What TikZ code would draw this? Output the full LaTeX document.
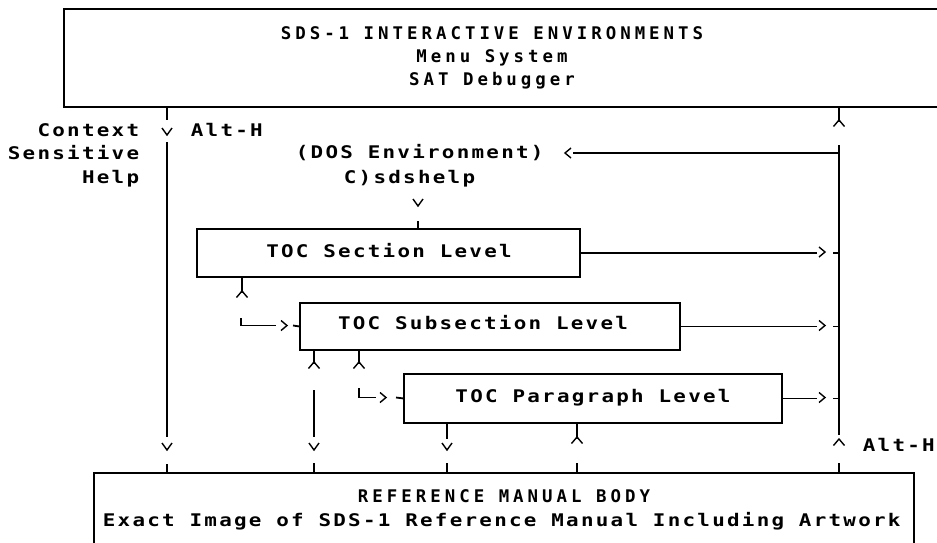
\documentclass[tikz,border=0pt]{standalone}
\usepackage{fontspec}
\newfontfamily\plotfont[FakeStretch=1.2,LetterSpace=13,BoldFont={DejaVu Sans Mono Bold}]{DejaVu Sans Mono}
\newfontfamily\headfont[LetterSpace=23,BoldFont={DejaVu Sans Mono Bold}]{DejaVu Sans Mono}
\newcommand\capdown[2]{\draw[line width=1.4pt] (#1-5,#2-7) -- (#1,#2) -- (#1+5,#2-7);}
\newcommand\capup[2]{\draw[line width=1.4pt] (#1-5.5,#2+6.5) -- (#1,#2) -- (#1+5.5,#2+6.5);}
\newcommand\chevright[2]{\draw[line width=1.4pt] (#1-6,#2-5) -- (#1,#2) -- (#1-6,#2+5);}
\newcommand\chevleft[2]{\draw[line width=1.4pt] (#1+6,#2-5) -- (#1,#2) -- (#1+6,#2+5);}
\begin{document}
\begin{tikzpicture}[x=1pt,y=-1pt,line width=1.8pt,
  box/.style={draw,line width=1.8pt,inner sep=0pt,anchor=north west},
  txt/.style={inner sep=0pt,font=\plotfont\bfseries\fontsize{17.4}{20}\selectfont},
  head/.style={inner sep=0pt,font=\headfont\bfseries\fontsize{17.4}{20}\selectfont}]
\useasboundingbox[fill=white] (0,0) rectangle (937,542);

% boxes
\node[box,minimum width=900pt,minimum height=98pt] (top) at (63,8) {};
\node[box,minimum width=820pt,minimum height=100pt] (body) at (93,472) {};
\node[box,minimum width=383pt,minimum height=48pt] (sec) at (196,228) {};
\node[box,minimum width=380pt,minimum height=47pt] (sub) at (299,302) {};
\node[box,minimum width=378pt,minimum height=49pt] (par) at (403,373) {};

% box texts
\node[head,anchor=base] (t1) at (492,39) {SDS-1 INTERACTIVE ENVIRONMENTS};
\node[head,anchor=base] (t2) at (492,62) {Menu System};
\node[head,anchor=base] (t3) at (492,85) {SAT Debugger};
\node[txt,anchor=base] (secT) at (389,257) {TOC Section Level};
\node[txt,anchor=base] (subT) at (483,329) {TOC Subsection Level};
\node[txt,anchor=base] (parT) at (593,402) {TOC Paragraph Level};
\node[head,anchor=base] (b1) at (504,502) {REFERENCE MANUAL BODY};
\node[txt,anchor=base west] (b2) at (102,526) {Exact Image of SDS-1 Reference Manual Including Artwork};

% side texts
\node[txt,anchor=base east] (ctx) at (140,136) {Context};
\node[txt,anchor=base east] (sens) at (140,159) {Sensitive};
\node[txt,anchor=base east] (help) at (140,183) {Help};
\node[txt,anchor=base west] (alt1) at (190,136) {Alt-H};
\node[txt,anchor=base west] (dos) at (295,158) {(DOS Environment)};
\node[txt,anchor=base west] (cmd) at (343,183) {C)sdshelp};
\node[txt,anchor=base west] (alt2) at (862,451) {Alt-H};

% named coordinates
\coordinate (lx) at (167,0);
\coordinate (rx) at (839,0);
\coordinate (sx) at (314,0);
\coordinate (px) at (447,0);
\coordinate (qx) at (577,0);
\coordinate (ax) at (817,0);
\coordinate (tx) at (833,0);

% left column (context help)
\draw (top.south -| lx) -- ++(0,12);
\capdown{167}{135}
\draw (167,142) coordinate (lstart) -- (167,437) coordinate (lend);
\capdown{167}{450}
\draw (body.north -| lx) -- ++(0,-8);

% right bus
\draw (top.south -| rx) -- ++(0,14) coordinate (rtop);
\capup{839}{120}
\draw (839,145) coordinate (busTop) -- (839,435) coordinate (busBot);
\capup{839}{439}
\draw (body.north -| rx) -- ++(0,-9);

% DOS entry
\draw (busTop |- 0,153) -- (573,153) coordinate (dosEnd);
\chevleft{565}{153}
\capdown{418}{206}
\draw (sec.north -| 418,0) -- ++(0,-7);

% right arrows to bus
\draw (sec.east) -- (sec.east -| ax);
\chevright{825}{252}
\draw (sec.east -| tx) -- (sec.east -| busTop);
\draw (sub.east) -- (sub.east -| ax);
\chevright{825}{325.5}
\draw (sub.east -| tx) -- (sub.east -| busTop);
\draw (par.east) -- (par.east -| ax);
\chevright{825}{397.5}
\draw (par.east -| tx) -- (par.east -| busTop);

% section -> subsection
\draw (sec.south -| 242,0) -- ++(0,15);
\capup{242}{291}
\draw (241,318) -- (241,325.5) -- (276,325.5);
\chevright{287}{325.5}
\draw (293,325.5) -- (sub.west);

% subsection -> body, subsection -> paragraph
\draw (sub.south -| sx) -- ++(0,13);
\capup{314}{362}
\draw (sub.south -| 359,0) -- ++(0,13);
\capup{359}{362}
\draw (314,390) -- (314,437);
\capdown{314}{450}
\draw (body.north -| sx) -- ++(0,-9);
\draw (359,388) -- (359,397.5) -- (376,397.5);
\chevright{386}{397.5}
\draw (396,397.5) -- (par.west);

% paragraph -> body
\draw (par.south -| px) -- ++(0,15);
\capdown{447}{450}
\draw (body.north -| px) -- ++(0,-9);
\draw (par.south -| qx) -- ++(0,15);
\capup{577}{437}
\draw (body.north -| qx) -- ++(0,-9);
\end{tikzpicture}
\end{document}
